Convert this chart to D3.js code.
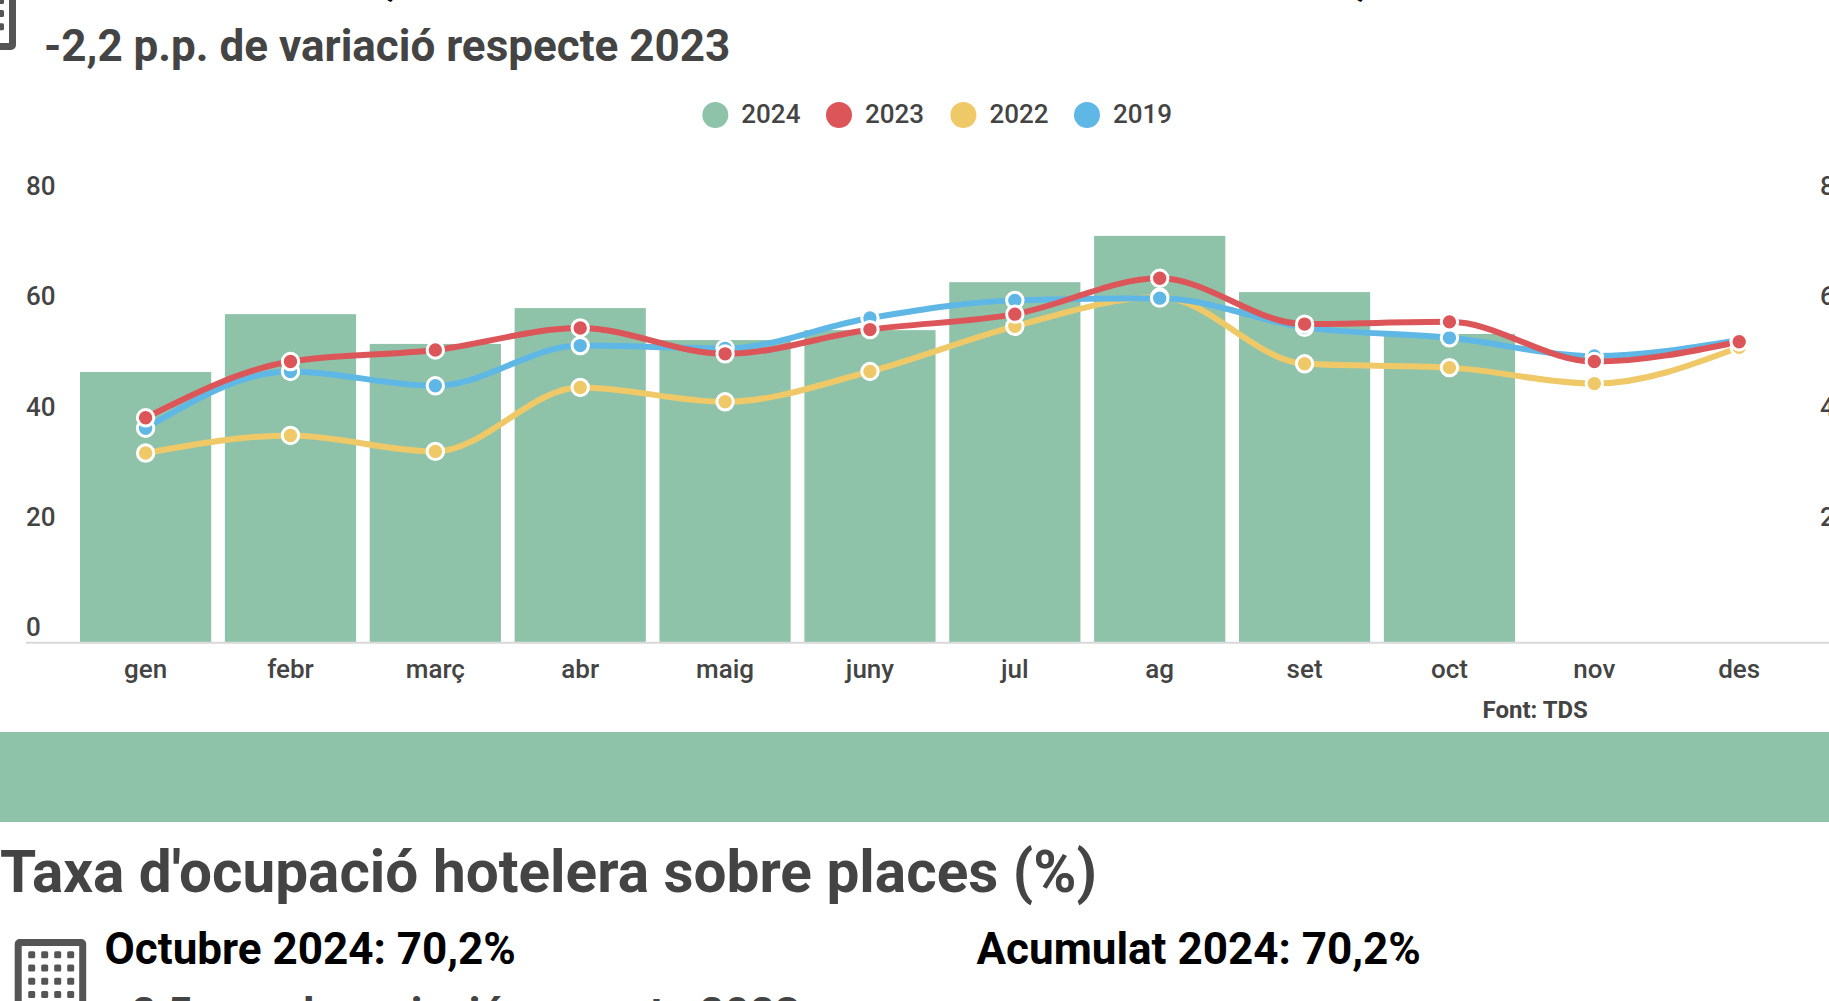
<!DOCTYPE html>
<html><head><meta charset="utf-8">
<script src="https://cdn.jsdelivr.net/npm/d3@7/dist/d3.min.js"></script>
<style>
html,body{margin:0;padding:0;background:#fff;overflow:hidden}
svg{display:block}
text{font-family:Roboto,sans-serif}
</style></head><body>
<svg id="c" width="1829" height="1001"></svg>
<script>
const months=["gen","febr","març","abr","maig","juny","jul","ag","set","oct","nov","des"];
const v2024=[49.1,59.6,54.2,60.7,54.9,56.7,65.4,73.8,63.6,56.0];
const v2023=[40.8,51.0,53.1,57.1,52.4,56.8,59.6,66.1,57.8,58.2,51.0,54.6];
const v2022=[34.4,37.6,34.7,46.3,43.7,49.2,57.4,62.7,50.6,49.9,47.0,53.6];
const v2019=[38.9,49.2,46.6,53.9,53.4,58.9,62.1,62.5,57.2,55.3,52.0,54.9];
const yTicks=[0,20,40,60,80];
const legendItems=["2024","2023","2022","2019"];
const colors={"2024":"#8fc3a9","2023":"#dc5558","2022":"#efc967","2019":"#5fb7e6"};
const INK="#444";

const svg=d3.select("#c");
const x=d3.scaleBand().domain(months).range([73.2,1811.6]).paddingInner(0.0945).paddingOuter(0.047);
const y=d3.scaleLinear().domain([0,80]).range([642.7,201.7]);
const cx=m=>x(m)+x.bandwidth()/2;

function txt(s,px,py,size,weight,fill,anchor){
  return svg.append("text").text(s).attr("x",px).attr("y",py).attr("font-size",size)
    .attr("font-weight",weight).attr("fill",fill).attr("text-anchor",anchor||"start");
}
txt("Octubre 2024: 55,9%",44,-5.6,44,700,"#000");
txt("Acumulat 2024: 59,3%",981,-5.6,44,700,"#000");
txt("-2,2 p.p. de variació respecte 2023",44,60.5,44,700,INK);

function icon(ox,oy){
  const g=svg.append("g").attr("transform",`translate(${ox},${oy})`);
  g.append("rect").attr("x",3.5).attr("y",3.5).attr("width",64.5).attr("height",98).attr("rx",1.5)
    .attr("fill","none").attr("stroke","#555").attr("stroke-width",7);
  for(const r of d3.range(6)) for(const c of d3.range(4))
    g.append("rect").attr("x",13.5+c*13).attr("y",12.3+r*13.2).attr("width",7).attr("height",7).attr("rx",1.5).attr("fill","#555");
}
icon(-55.5,-55);
icon(14.7,939);

let lx=[715.3,839,963.4,1087];
legendItems.forEach((k,i)=>{
  svg.append("circle").attr("cx",lx[i]).attr("cy",115).attr("r",13).attr("fill",colors[k]);
  txt(k,lx[i]+26,122.5,26,500,INK);
});

svg.append("g").selectAll("rect").data(v2024).join("rect")
  .attr("x",(d,i)=>x(months[i])).attr("width",x.bandwidth())
  .attr("y",d=>y(d)).attr("height",d=>y(0)-y(d)).attr("fill",colors["2024"]);

const gx=svg.append("g").attr("transform",`translate(0,${y(0)})`)
  .call(d3.axisBottom(x).tickSize(0).tickPadding(0));
gx.select(".domain").remove();
gx.selectAll("text").attr("y",35.5).attr("dy",0).attr("font-size",26).attr("font-weight",500)
  .attr("fill",INK).style("font-family","Roboto");
svg.append("line").attr("x1",26).attr("x2",1829).attr("y1",y(0)).attr("y2",y(0)).attr("stroke","#d9d9d9").attr("stroke-width",2);

function yAxis(px,vals){
  const g=svg.append("g").attr("transform",`translate(${px},0)`)
    .call(d3.axisLeft(y).tickValues(vals).tickSize(0).tickPadding(0));
  g.select(".domain").remove();
  g.selectAll("text").attr("x",0).attr("y",-7.2).attr("dy",0).attr("text-anchor","start")
    .attr("font-size",26).attr("font-weight",500).attr("fill",INK).style("font-family","Roboto");
}
yAxis(26,yTicks);
yAxis(1820,yTicks.filter(d=>d>0));

const line=d3.line().x((d,i)=>cx(months[i])).y(d=>y(d)).curve(d3.curveMonotoneX);
[["2022",v2022],["2019",v2019],["2023",v2023]].forEach(([k,vals])=>{
  svg.append("path").attr("d",line(vals)).attr("fill","none").attr("stroke",colors[k]).attr("stroke-width",6);
});
[["2022",v2022],["2019",v2019],["2023",v2023]].forEach(([k,vals])=>{
  svg.append("g").selectAll("circle").data(vals).join("circle")
    .attr("cx",(d,i)=>cx(months[i])).attr("cy",d=>y(d)).attr("r",8.2)
    .attr("fill",colors[k]).attr("stroke","#fff").attr("stroke-width",3);
});

txt("Font: TDS",1482.5,718,24,700,INK);

svg.append("rect").attr("x",0).attr("y",732).attr("width",1829).attr("height",90).attr("fill",colors["2024"]);
txt("Taxa d'ocupació hotelera sobre places (%)",0,891.7,58.5,700,INK);
txt("Octubre 2024: 70,2%",104.5,964.3,44,700,"#000");
txt("Acumulat 2024: 70,2%",976.5,964.3,44,700,"#000");
txt("-2,5 p.p. de variació respecte 2023",114,1029,44,700,INK);
</script>
</body></html>
